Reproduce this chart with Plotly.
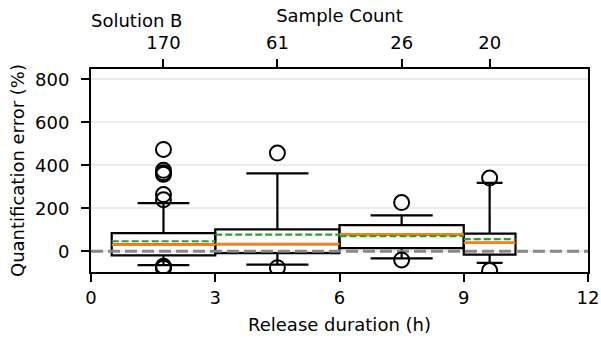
import plotly.graph_objects as go

# Release-duration bins: centre (h) and width (h)
durations = [1.75, 4.5, 7.5, 9.625]
bin_widths = [2.5, 3.0, 3.0, 1.25]
sample_counts = [170, 61, 26, 20]

# Box statistics of the quantification error (%) per bin
q1 = [-19, -8, 15, -15]
median = [31, 34, 79, 40]
q3 = [85, 102, 122, 82]
mean = [47, 78, 71, 57]
lower_whisker = [-64, -62, -33, -54]
upper_whisker = [224, 363, 167, 318]
outliers = [
    [474, 377, 366, 358, 264, 240, -69, -74, -78],
    [457, -76],
    [227, -40],
    [341, -89],
]

x_ticks = [0, 3, 6, 9, 12]
y_ticks = [0, 200, 400, 600, 800]

FONT = "DejaVu Sans"
fig = go.Figure()

# zero-error reference line
fig.add_trace(go.Scatter(
    x=[x_ticks[0], x_ticks[-1]], y=[0, 0], mode="lines",
    line=dict(color="#888888", width=3, dash="12px,5px"),
    hoverinfo="skip", showlegend=False,
))

# boxes and whiskers
for i, c in enumerate(durations):
    fig.add_trace(go.Box(
        x=[c], q1=[q1[i]], median=[median[i]], q3=[q3[i]],
        lowerfence=[lower_whisker[i]], upperfence=[upper_whisker[i]],
        width=bin_widths[i], whiskerwidth=0.5,
        line=dict(color="black", width=2.2),
        fillcolor="rgba(255,255,255,0)",
        boxpoints=False, showlegend=False,
    ))

# fliers
fx, fy = [], []
for c, pts in zip(durations, outliers):
    fx += [c] * len(pts)
    fy += pts
fig.add_trace(go.Scatter(
    x=fx, y=fy, mode="markers",
    marker=dict(symbol="circle-open", size=15, color="black",
                line=dict(width=2, color="black")),
    showlegend=False,
))

# median (orange) and mean (green dashed) across each box, on the
# top (sample count) axis which shares the duration scale
med_x, med_y, mean_x, mean_y = [], [], [], []
for c, w, m, a in zip(durations, bin_widths, median, mean):
    med_x += [c - w / 2, c + w / 2, None]
    med_y += [m, m, None]
    mean_x += [c - w / 2, c + w / 2, None]
    mean_y += [a, a, None]

fig.add_trace(go.Scatter(
    x=med_x, y=med_y, mode="lines", xaxis="x2",
    line=dict(color="#ff7f0e", width=2.5),
    hoverinfo="skip", showlegend=False,
))
fig.add_trace(go.Scatter(
    x=mean_x, y=mean_y, mode="lines", xaxis="x2",
    line=dict(color="#2ca02c", width=2.2, dash="7px,3px"),
    hoverinfo="skip", showlegend=False,
))

axis_common = dict(
    ticks="outside", ticklen=8, tickwidth=2, tickcolor="black",
    showline=True, linewidth=2, linecolor="black",
    tickfont=dict(family=FONT, size=18, color="black"),
    zeroline=False, automargin=False,
)

fig.update_layout(
    width=601, height=338,
    margin=dict(l=91, r=13, t=69, b=66),
    paper_bgcolor="white", plot_bgcolor="white",
    font=dict(family=FONT, size=18, color="black"),
    title=dict(text="Solution B", x=91 / 601, xanchor="left",
               y=1 - 21 / 338, yanchor="middle", automargin=False,
               font=dict(family=FONT, size=18, color="black")),
    xaxis=dict(range=[x_ticks[0], x_ticks[-1]], tickvals=x_ticks,
               showgrid=False, mirror=True,
               title=dict(text="Release duration (h)", standoff=12,
                          font=dict(family=FONT, size=18, color="black")),
               **axis_common),
    xaxis2=dict(range=[x_ticks[0], x_ticks[-1]], overlaying="x", side="top",
                anchor="y", tickvals=durations,
                ticktext=[str(n) for n in sample_counts], showgrid=False,
                ticklabelstandoff=3,
                title=dict(text="Sample Count", standoff=4,
                           font=dict(family=FONT, size=18, color="black")),
                **axis_common),
    yaxis=dict(range=[-96, 848], tickvals=y_ticks, showgrid=True,
               gridcolor="#ebebeb", gridwidth=1.5, mirror=True,
               ticklabelstandoff=8,
               title=dict(text="Quantification error (%)", standoff=6,
                          font=dict(family=FONT, size=18, color="black")),
               **axis_common),
)

fig.write_html("out.html")
